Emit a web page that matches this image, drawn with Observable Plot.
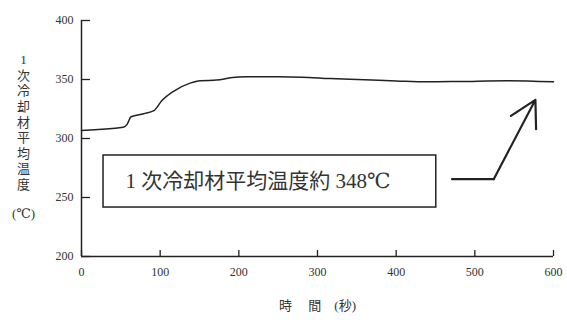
<!DOCTYPE html>
<html>
<head>
<meta charset="utf-8">
<script src="https://cdn.jsdelivr.net/npm/d3@7"></script>
<script src="https://cdn.jsdelivr.net/npm/@observablehq/plot@0.6"></script>
<style>
  html, body { margin: 0; padding: 0; background: #fff; }
  #chart { width: 567px; height: 322px; }
</style>
</head>
<body>
<div id="chart"></div>
<script>
// Data
const timeSec = [0, 53, 58, 63, 79, 92, 102, 117, 138, 151, 172, 189, 210, 250, 280, 316, 360, 400, 439, 480, 541, 600];
const avgTemp = [306.8, 309.5, 312, 318.4, 321, 323.6, 332, 340, 346.9, 349, 349.5, 351.4, 352.3, 352.3, 352, 350.8, 349.8, 348.8, 348, 348.3, 349, 348];

const xTicks = [0, 100, 200, 300, 400, 500, 600];
const yTicks = [200, 250, 300, 350, 400];

const yLabelChars = ["1", "次", "冷", "却", "材", "平", "均", "温", "度"];
const yUnit = "(℃)";
const xLabel = "時　 間　(秒)";

// Annotation (in data units)
const noteText = "1 次冷却材平均温度約 348℃";
const noteBox = [{x1: 28, x2: 451, y1: 241.5, y2: 285.6}];
const noteTextPos = [{t: 56, v: 263.6}];
const arrowElbow = [{t: 471, v: 265.5}, {t: 524, v: 265.5}];
const arrowHead = [{t1: 524, v1: 265.5, t2: 577, v2: 332.8}];

const data = timeSec.map((t, i) => ({t, v: avgTemp[i]}));

const ink = "#222";
const textInk = "#333";
const serif = "'Liberation Serif', 'DejaVu Serif', 'Noto Sans CJK JP', serif";

const chart = Plot.plot({
  width: 567,
  height: 322,
  marginLeft: 81,
  marginRight: 14,
  marginTop: 20,
  marginBottom: 66,
  style: {fontFamily: serif, color: textInk, background: "#fff"},
  x: {domain: [0, 600]},
  y: {domain: [200, 400]},
  marks: [
    // axis lines
    Plot.ruleX([0], {y1: 200, y2: 400, stroke: ink, strokeWidth: 1.5}),
    Plot.ruleY([200], {x1: 0, x2: 600, stroke: ink, strokeWidth: 1.5}),
    // inward ticks
    Plot.axisX({ticks: xTicks, tickSize: -6, text: null, stroke: ink, strokeWidth: 1.3}),
    Plot.axisY({ticks: yTicks, tickSize: -9, text: null, stroke: ink, strokeWidth: 1.3}),
    // tick labels
    Plot.axisX({ticks: xTicks, tickSize: 0, tickPadding: 11, fontSize: 12, label: null, fill: textInk}),
    Plot.axisY({ticks: yTicks, tickSize: 0, tickPadding: 8, fontSize: 12, label: null, fill: textInk}),
    // series
    Plot.line(data, {x: "t", y: "v", stroke: ink, strokeWidth: 1.5, curve: "monotone-x"}),
    // annotation box
    Plot.rect(noteBox, {x1: "x1", x2: "x2", y1: "y1", y2: "y2", fill: "#fff", stroke: ink, strokeWidth: 1.5}),
    Plot.text(noteTextPos, {x: "t", y: "v", text: () => noteText, textAnchor: "start", fontSize: 21, fill: textInk}),
    // arrow
    Plot.line(arrowElbow, {x: "t", y: "v", stroke: ink, strokeWidth: 2.2}),
    Plot.arrow(arrowHead, {x1: "t1", y1: "v1", x2: "t2", y2: "v2", stroke: ink, strokeWidth: 2.2, headLength: 20, headAngle: 58}),
    // y axis title (stacked vertical)
    Plot.text([yLabelChars.join("\n")], {frameAnchor: "left", dx: -58, dy: -17, lineHeight: 1.2, fontSize: 13, textAnchor: "middle", fill: textInk}),
    Plot.text([yUnit], {frameAnchor: "left", dx: -58, dy: 75, fontSize: 13, textAnchor: "middle", fill: textInk}),
    // x axis title
    Plot.text([xLabel], {frameAnchor: "bottom", dy: 53, fontSize: 13, textAnchor: "middle", fill: textInk})
  ]
});
document.getElementById("chart").appendChild(chart);
</script>
</body>
</html>
